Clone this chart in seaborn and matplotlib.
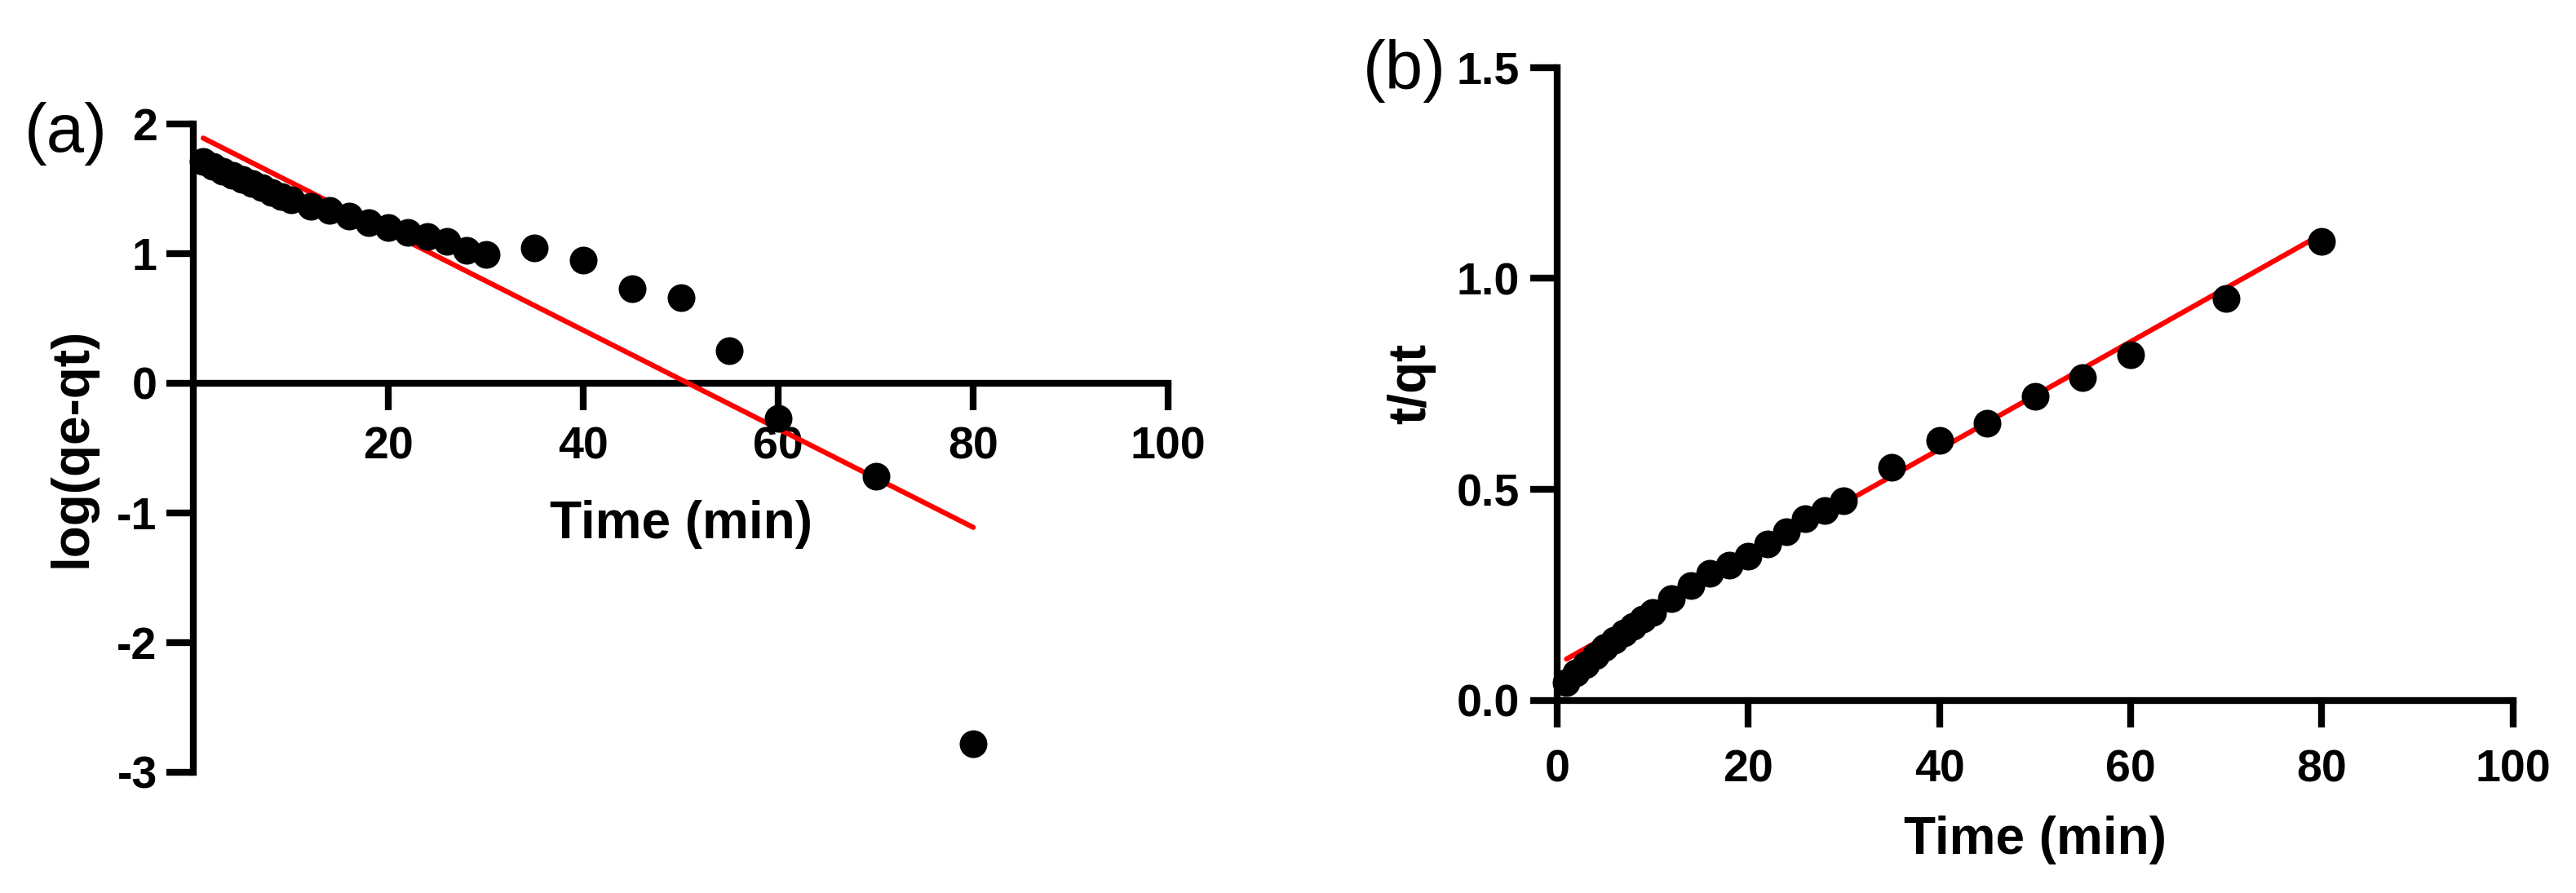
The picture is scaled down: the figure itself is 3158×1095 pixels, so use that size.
import matplotlib
matplotlib.use("Agg")
import numpy as np
import pandas as pd
import matplotlib.pyplot as plt
import seaborn as sns

# --- data ---
time_min = [1, 2, 3, 4, 5, 6, 7, 8, 9, 10, 12, 14, 16, 18, 20, 22, 24, 26, 28, 30,
            35, 40, 45, 50, 55, 60, 70, 80]

# (a) pseudo-first-order: log(qe-qt)
log_qe_qt = [1.71, 1.67, 1.63, 1.60, 1.57, 1.54, 1.51, 1.47, 1.44, 1.41,
             1.36, 1.33, 1.29, 1.235, 1.20, 1.16, 1.13, 1.09, 1.025, 0.99,
             1.04, 0.95, 0.725, 0.66, 0.25, -0.27, -0.72, -2.78]

# (b) pseudo-second-order: t/qt
t_over_qt = [0.042, 0.065, 0.085, 0.105, 0.125, 0.143, 0.160, 0.176, 0.193, 0.209,
             0.242, 0.271, 0.300, 0.320, 0.341, 0.370, 0.400, 0.430, 0.450, 0.473,
             0.553, 0.616, 0.656, 0.721, 0.764, 0.819, 0.953, 1.088]

# linear fits (slope, intercept) drawn over the measured time span
fit_t = [1, 80]
pfo_slope, pfo_intercept = -0.0380, 1.927
pso_slope, pso_intercept = 0.01275, 0.085

df = pd.DataFrame({'time': time_min, 'log': log_qe_qt, 'tq': t_over_qt})
fit = pd.DataFrame({'time': fit_t})
fit['pfo'] = pfo_intercept + pfo_slope * fit['time']
fit['pso'] = pso_intercept + pso_slope * fit['time']

sns.set_style("ticks", {'axes.edgecolor': 'black', 'xtick.color': 'black',
                        'ytick.color': 'black', 'text.color': 'black',
                        'axes.labelcolor': 'black'})
plt.rcParams['font.family'] = ['Liberation Sans', 'DejaVu Sans']
plt.rcParams['font.weight'] = 'bold'
plt.rcParams['axes.unicode_minus'] = False

fig = plt.figure(figsize=(31.58, 10.95), dpi=100)
ax1 = fig.add_axes([0.0751, 0.1354, 0.3784, 0.7261])
ax2 = fig.add_axes([0.6044, 0.2158, 0.3712, 0.7087])

SPINE_W = 6
TICK_LEN = 24
TICK_FS = 40
LABEL_FS = 46
DOT = 600
FIT_W = 4.5

# --- panel (a) ---
sns.lineplot(data=fit, x='time', y='pfo', ax=ax1, color='#ff0000', linewidth=FIT_W, zorder=3)
sns.scatterplot(data=df, x='time', y='log', ax=ax1, color='black', s=DOT,
                linewidth=0, zorder=4, clip_on=False)
ax1.set_xlim(0, 100)
ax1.set_ylim(-3, 2)
ax1.set_xticks([20, 40, 60, 80, 100])
ax1.set_yticks([-3, -2, -1, 0, 1, 2])
ax1.spines['bottom'].set_position(('data', 0))
ax1.tick_params(axis='x', length=TICK_LEN, width=SPINE_W, labelsize=TICK_FS, pad=14)
ax1.tick_params(axis='y', length=TICK_LEN, width=SPINE_W, labelsize=TICK_FS, pad=8)
ax1.set_xlabel('Time (min)', fontsize=LABEL_FS, fontweight='bold')
ax1.set_ylabel('log(qe-qt)', fontsize=LABEL_FS, fontweight='bold')
ax1.xaxis.set_label_coords(0.5, 0.42)
ax1.yaxis.set_label_coords(-0.099, 0.5)

# --- panel (b) ---
sns.lineplot(data=fit, x='time', y='pso', ax=ax2, color='#ff0000', linewidth=FIT_W, zorder=3)
sns.scatterplot(data=df, x='time', y='tq', ax=ax2, color='black', s=DOT,
                linewidth=0, zorder=4, clip_on=False)
ax2.set_xlim(0, 100)
ax2.set_ylim(0, 1.5)
ax2.set_xticks([0, 20, 40, 60, 80, 100])
ax2.set_yticks([0.0, 0.5, 1.0, 1.5])
ax2.set_yticklabels(['0.0', '0.5', '1.0', '1.5'])
ax2.tick_params(axis='x', length=TICK_LEN, width=SPINE_W, labelsize=TICK_FS, pad=19)
ax2.tick_params(axis='y', length=TICK_LEN, width=SPINE_W, labelsize=TICK_FS, pad=9)
ax2.set_xlabel('Time (min)', fontsize=LABEL_FS, fontweight='bold')
ax2.set_ylabel('t/qt', fontsize=LABEL_FS, fontweight='bold')
ax2.xaxis.set_label_coords(0.5, -0.182)
ax2.yaxis.set_label_coords(-0.127, 0.5)

for ax in (ax1, ax2):
    sns.despine(ax=ax)
    for side in ('left', 'bottom'):
        ax.spines[side].set_linewidth(SPINE_W)
        ax.spines[side].set_color('black')
    ax.set_facecolor('white')

fig.text(81 / 3158, 1 - 164 / 1095, '(a)', ha='center', va='center',
         fontsize=60, fontweight='normal')
fig.text(1722 / 3158, 1 - 87 / 1095, '(b)', ha='center', va='center',
         fontsize=60, fontweight='normal')

fig.savefig('out.png', dpi=100, facecolor='white')
